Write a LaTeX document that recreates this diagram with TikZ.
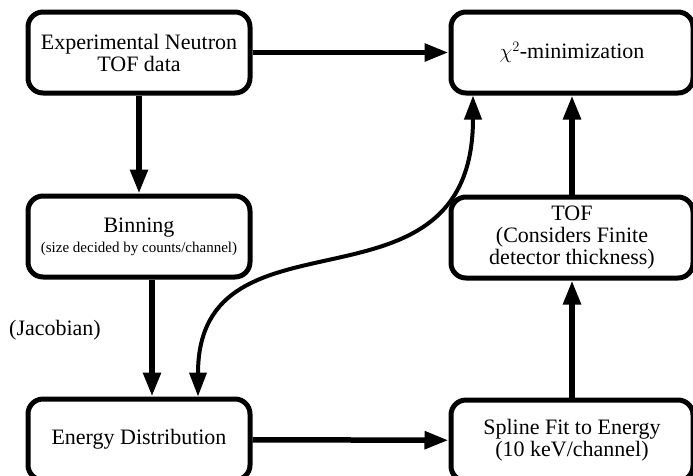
\documentclass[tikz,border=0pt]{standalone}
\usepackage{fontspec}
\setmainfont{Liberation Serif}
\usepackage{tikz}
\usetikzlibrary{arrows.meta, positioning}

\begin{document}
\begin{tikzpicture}[
    box/.style={rectangle, draw, line width=5pt, rounded corners=15pt, align=center,
        minimum height=81pt, inner sep=2pt, font=\fontsize{22}{22}\selectfont},
    leftbox/.style={box, minimum width=222pt},
    rightbox/.style={box, minimum width=242pt},
    flow/.style={line width=5.5pt, -{Triangle[length=24pt, width=17pt]}},
    every node/.style={font=\fontsize{22}{22}\selectfont}
]
\useasboundingbox (0,0) rectangle (693pt,-475pt);

% Left column
\node[leftbox] (tofdata) at (139pt,-52.5pt) {Experimental Neutron\\TOF data};
\node[leftbox, below=98pt of tofdata] (binning) {Binning\\[-2pt]{\fontsize{15}{15}\selectfont (size decided by counts/channel)}};
\node[leftbox, below=117pt of binning] (energy) {Energy Distribution};
\node at (55pt,-330pt) (jacobian) {(Jacobian)};

% Right column
\node[rightbox, right=196pt of tofdata] (chimin) {$\chi^2$-minimization};
\node[rightbox, below=99pt of chimin] (tofbox) {TOF\\(Considers Finite\\detector thickness)};
\node[rightbox, below=117pt of tofbox] (spline) {Spline Fit to Energy\\(10 keV/channel)};

% Arrows
\draw[flow] (tofdata) -- (chimin);
\draw[flow] (tofdata) -- (binning);
\draw[flow] ([xshift=13pt]binning.south) -- ([xshift=13pt]energy.north);
\draw[flow] (energy) -- (spline);
\draw[flow] (spline) -- (tofbox);
\draw[flow] (tofbox) -- (chimin);

% the S-shaped link
\draw[line width=4pt, {Triangle[length=24pt, width=17pt]}-{Triangle[length=24pt, width=17pt]}]
  ([xshift=59pt]energy.north)
  .. controls +(0,200pt) and +(0,-233pt) ..
  ([xshift=-99pt]chimin.south);

\end{tikzpicture}
\end{document}
